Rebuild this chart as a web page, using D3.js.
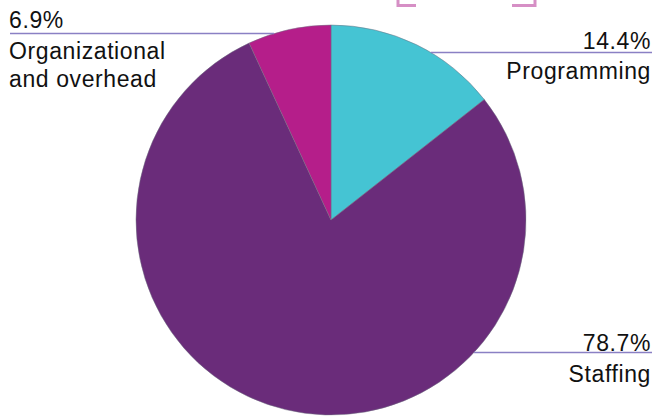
<!DOCTYPE html>
<html><head><meta charset="utf-8">
<script src="https://cdn.jsdelivr.net/npm/d3@7"></script>
<style>
html,body{margin:0;padding:0;background:#fff;}
svg{display:block;}
text{font-family:"Liberation Sans",Arial,Helvetica,sans-serif;font-size:23px;fill:#111;letter-spacing:0.6px;}
</style></head>
<body>
<script>
const categories = ["Programming", "Staffing", "Organizational and overhead"];
const values = [14.4, 78.7, 6.9];
const pctLabels = ["14.4%", "78.7%", "6.9%"];
const colors = ["#45C4D3", "#6A2C7A", "#B51E8A"];

const W = 654, H = 417;
const cx = 331, cy = 220, R = 195;

const svg = d3.select("body").append("svg").attr("width", W).attr("height", H);

// cropped title bracket fragments at top
const br = svg.append("g").attr("fill", "none").attr("stroke", "#D68FC5").attr("stroke-width", 3);
br.append("path").attr("d", "M398,0 V5.5 H416");
br.append("path").attr("d", "M512,5.5 H535 V0");

const pie = d3.pie().sort(null).value(d => d)(values);
const arc = d3.arc().innerRadius(0).outerRadius(R);

const g = svg.append("g").attr("transform", `translate(${cx},${cy})`);
g.selectAll("path.slice").data(pie).join("path")
  .attr("class", "slice")
  .attr("d", arc)
  .attr("fill", (d, i) => colors[i])
  .attr("stroke", "#6f6f80")
  .attr("stroke-width", 0.5);

const layout = [
  {lineY: 52.5, side: "right", pctY: 49, nameYs: [79]},
  {lineY: 352.5, side: "right", pctY: 351, nameYs: [382]},
  {lineY: 33.5, side: "left", pctY: 28, nameYs: [59, 87]}
];
const nameLines = [["Programming"], ["Staffing"], ["Organizational", "and overhead"]];

layout.forEach((L, i) => {
  const dy = L.lineY - cy;
  const dx = Math.sqrt(Math.max(0, R * R - dy * dy));
  const x1 = L.side === "right" ? cx + dx : 10;
  const x2 = L.side === "right" ? 652 : cx - dx;
  svg.append("line").attr("x1", x1).attr("x2", x2).attr("y1", L.lineY).attr("y2", L.lineY)
    .attr("stroke", "#8a80c4").attr("stroke-width", 1.5);
  const tx = L.side === "right" ? 651 : 9;
  const anchor = L.side === "right" ? "end" : "start";
  svg.append("text").attr("x", tx).attr("y", L.pctY).attr("text-anchor", anchor).text(pctLabels[i]);
  nameLines[i].forEach((t, j) => {
    svg.append("text").attr("x", tx).attr("y", L.nameYs[j]).attr("text-anchor", anchor).text(t);
  });
});
</script>
</body></html>
